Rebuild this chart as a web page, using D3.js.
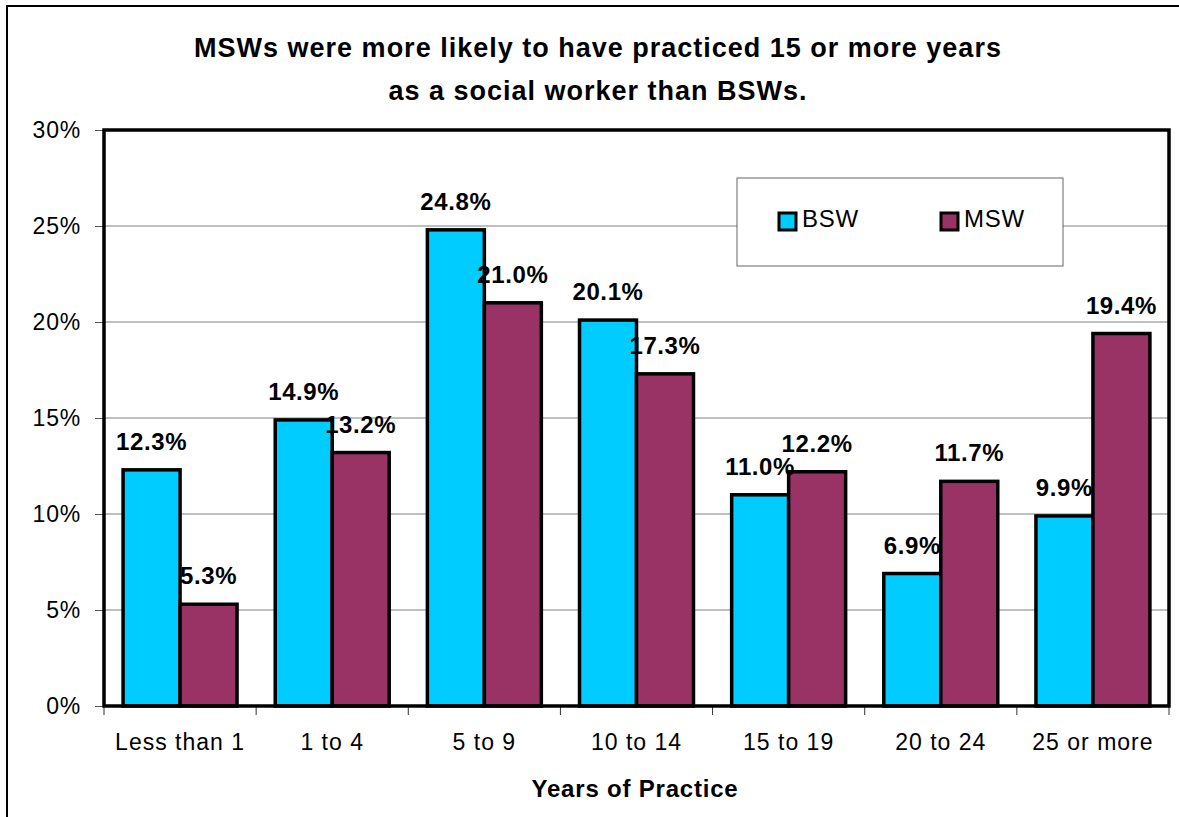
<!DOCTYPE html>
<html>
<head>
<meta charset="utf-8">
<script src="https://cdn.jsdelivr.net/npm/d3@7"></script>
<style>
  body { margin: 0; background: #fff; }
  svg { display: block; font-family: "Liberation Sans", Arial, sans-serif; }
</style>
</head>
<body>
<svg id="chart"></svg>
<script>
// Years of practice, BSW vs MSW
var categories = ["Less than 1", "1 to 4", "5 to 9", "10 to 14", "15 to 19", "20 to 24", "25 or more"];
var seriesNames = ["BSW", "MSW"];
var bswValues = [12.3, 14.9, 24.8, 20.1, 11.0, 6.9, 9.9];
var mswValues = [5.3, 13.2, 21.0, 17.3, 12.2, 11.7, 19.4];
var yTicks = [0, 5, 10, 15, 20, 25, 30];
var colors = { BSW: "#00CCFF", MSW: "#993366" };

var width = 1179;
var height = 817;
var plot = { left: 104, top: 130, right: 1169, bottom: 706 };

var data = categories.map(function(c, i) {
  return { cat: c, BSW: bswValues[i], MSW: mswValues[i] };
});

var svg = d3.select("#chart")
    .attr("width", width)
    .attr("height", height);

// outer chart border (only left and top are inside the picture)
svg.append("path")
    .attr("d", "M7," + (height + 5) + "V6H" + (width + 5))
    .attr("fill", "none")
    .attr("stroke", "#000")
    .attr("stroke-width", 2);

var x0 = d3.scaleBand()
    .domain(categories)
    .range([plot.left, plot.right]);

var x1 = d3.scaleBand()
    .domain(seriesNames)
    .range([0, x0.bandwidth()])
    .paddingOuter(0.335);

var y = d3.scaleLinear()
    .domain([0, 30])
    .range([plot.bottom, plot.top]);

// gridlines
svg.append("g")
  .selectAll("line")
  .data(yTicks.slice(1, -1))
  .join("line")
    .attr("x1", plot.left)
    .attr("x2", plot.right)
    .attr("y1", d => y(d))
    .attr("y2", d => y(d))
    .attr("stroke", "#808080")
    .attr("stroke-width", 1);

// y axis
var yAxis = d3.axisLeft(y)
    .tickValues(yTicks)
    .tickFormat(d => d + "%")
    .tickSize(9)
    .tickPadding(14);

var gy = svg.append("g")
    .attr("transform", "translate(" + plot.left + ",0)")
    .call(yAxis);
gy.select(".domain").remove();
gy.selectAll(".tick line").attr("stroke", "#555");
gy.selectAll(".tick text")
    .attr("fill", "#000")
    .style("font-size", "23px")
    .style("letter-spacing", "0.8px")
    .style("font-family", "Liberation Sans, Arial, sans-serif");

// x axis ticks at category boundaries
var boundaries = categories.map(c => x0(c)).concat([plot.right]);
svg.append("g")
  .selectAll("line")
  .data(boundaries)
  .join("line")
    .attr("x1", d => d).attr("x2", d => d)
    .attr("y1", plot.bottom).attr("y2", plot.bottom + 9)
    .attr("stroke", "#333")
    .attr("stroke-width", 1);

svg.append("g")
  .selectAll("text")
  .data(categories)
  .join("text")
    .attr("x", d => x0(d) + x0.bandwidth() / 2)
    .attr("y", 750)
    .attr("text-anchor", "middle")
    .style("font-size", "23px")
    .style("letter-spacing", "1px")
    .text(d => d);

// bars
var groups = svg.append("g")
  .selectAll("g")
  .data(data)
  .join("g")
    .attr("transform", d => "translate(" + x0(d.cat) + ",0)");

groups.selectAll("rect")
  .data(d => seriesNames.map(k => ({ key: k, value: d[k] })))
  .join("rect")
    .attr("x", d => x1(d.key))
    .attr("y", d => y(d.value))
    .attr("width", x1.bandwidth())
    .attr("height", d => y(0) - y(d.value))
    .attr("fill", d => colors[d.key])
    .attr("stroke", "#000")
    .attr("stroke-width", 3.5);

// plot area frame (top, left, right, and base axis)
svg.append("path")
    .attr("d", "M" + plot.left + "," + plot.bottom + "V" + plot.top + "H" + plot.right + "V" + plot.bottom + "Z")
    .attr("fill", "none")
    .attr("stroke", "#000")
    .attr("stroke-width", 3.5);

// data labels
groups.selectAll("text")
  .data(d => seriesNames.map(k => ({ key: k, value: d[k] })))
  .join("text")
    .attr("x", d => x1(d.key) + x1.bandwidth() / 2)
    .attr("y", d => y(d.value) - 20)
    .attr("text-anchor", "middle")
    .style("font-size", "24px")
    .style("letter-spacing", "0.6px")
    .style("font-weight", "bold")
    .text(d => d.value.toFixed(1) + "%");

// legend
var legend = svg.append("g");
legend.append("rect")
    .attr("x", 737).attr("y", 178)
    .attr("width", 326).attr("height", 88)
    .attr("fill", "#fff")
    .attr("stroke", "#666")
    .attr("stroke-width", 1);

var legendX = { BSW: 779, MSW: 941 };
seriesNames.forEach(function(k) {
  legend.append("rect")
      .attr("x", legendX[k]).attr("y", 213)
      .attr("width", 17).attr("height", 17)
      .attr("fill", colors[k])
      .attr("stroke", "#000")
      .attr("stroke-width", 3);
  legend.append("text")
      .attr("x", legendX[k] + 23)
      .attr("y", 227)
      .style("font-size", "24px")
      .style("letter-spacing", "0.8px")
      .text(k);
});

// title
var title = svg.append("text")
    .attr("text-anchor", "middle")
    .style("font-size", "27px")
    .style("letter-spacing", "1px")
    .style("font-weight", "bold");
title.append("tspan").attr("x", 598).attr("y", 57)
    .text("MSWs were more likely to have practiced 15 or more years");
title.append("tspan").attr("x", 598).attr("y", 100)
    .text("as a social worker than BSWs.");

// axis title
svg.append("text")
    .attr("x", 635)
    .attr("y", 797)
    .attr("text-anchor", "middle")
    .style("font-size", "24px")
    .style("letter-spacing", "0.8px")
    .style("font-weight", "bold")
    .text("Years of Practice");
</script>
</body>
</html>
